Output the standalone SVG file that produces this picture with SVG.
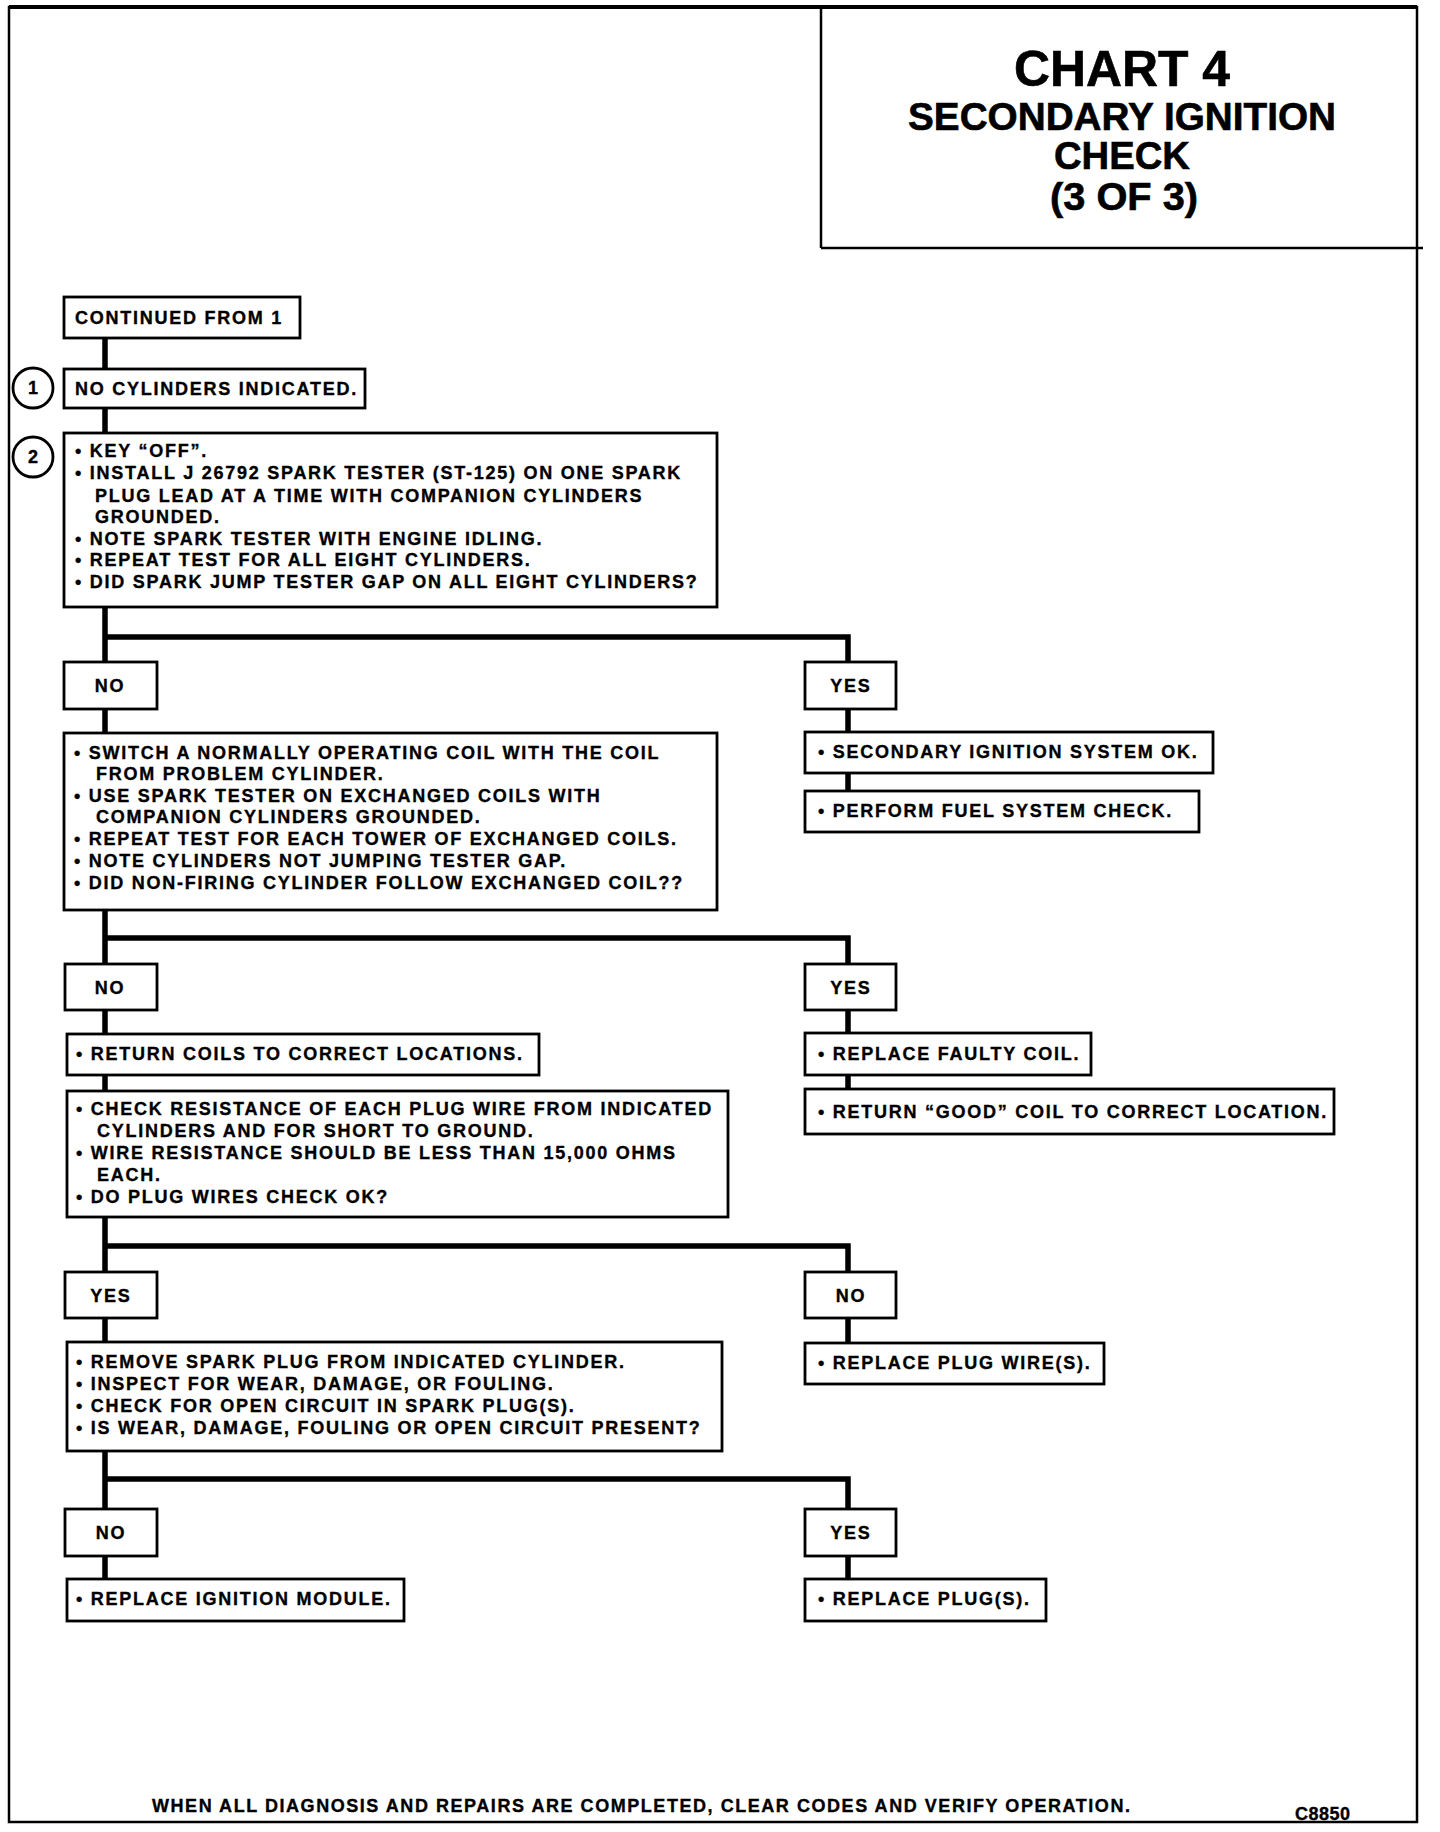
<svg xmlns="http://www.w3.org/2000/svg" width="1440" height="1832" viewBox="0 0 1440 1832">
<style>
.bg{fill:#ffffff}
.frame{fill:none;stroke:#000;stroke-width:2.5}
.box{fill:#fff;stroke:#000;stroke-width:2.8}
.con{fill:none;stroke:#000;stroke-width:5.5;stroke-linejoin:miter;stroke-linecap:butt}
.t{font-family:"Liberation Sans",Arial,sans-serif;font-weight:bold;font-size:18px;letter-spacing:1.75px;fill:#000;stroke:#000;stroke-width:0.35}
.c{text-anchor:middle}
.n0{letter-spacing:0px}
.ft{letter-spacing:1.55px}
.id{letter-spacing:0.5px}
.ttl{font-family:"Liberation Sans",Arial,sans-serif;font-weight:bold;fill:#000;stroke:#000;stroke-width:0.6;text-anchor:middle}
</style>
<rect class="bg" x="0" y="0" width="1440" height="1832"/>
<g id="frame">
<rect class="frame" x="9" y="7" width="1408" height="1815"/>
<line x1="9" y1="7" x2="1417" y2="7" stroke="#000" stroke-width="4"/>
<line x1="821" y1="7" x2="821" y2="248" stroke="#000" stroke-width="2.5"/>
<line x1="821" y1="248" x2="1423" y2="248" stroke="#000" stroke-width="2.5"/>
</g>
<g id="title">
<text class="ttl" x="1122" y="86" font-size="50" textLength="216" lengthAdjust="spacingAndGlyphs">CHART 4</text>
<text class="ttl" x="1122" y="130" font-size="38" textLength="428" lengthAdjust="spacingAndGlyphs">SECONDARY IGNITION</text>
<text class="ttl" x="1122" y="169" font-size="38" textLength="136" lengthAdjust="spacingAndGlyphs">CHECK</text>
<text class="ttl" x="1124" y="210" font-size="38" textLength="148" lengthAdjust="spacingAndGlyphs">(3 OF 3)</text>
</g>
<g id="connectors">
<path class="con" d="M105 338 V369 M105 408 V433 M105 607 V662 M105 709 V733 M105 910 V964 M105 1010 V1034 M105 1075 V1091 M105 1217 V1272 M105 1318 V1342 M105 1451 V1509 M105 1556 V1579"/>
<path class="con" d="M105 637 H848 V662 M105 938 H848 V964 M105 1246 H848 V1272 M105 1479 H848 V1509"/>
<path class="con" d="M848 709 V732 M848 773 V791 M848 1010 V1033 M848 1075 V1089 M848 1318 V1343 M848 1556 V1579"/>
</g>
<g id="n-continued">
<rect class="box" x="64" y="297" width="236" height="41"/>
<text class="t" x="75" y="324">CONTINUED FROM 1</text>
</g>
<g id="step1-marker">
<circle cx="33" cy="388" r="20" fill="#fff" stroke="#000" stroke-width="2.8"/>
<text class="t c n0" x="33" y="394">1</text>
</g>
<g id="n-no-cylinders">
<rect class="box" x="64" y="369" width="301" height="39"/>
<text class="t" x="75" y="395">NO CYLINDERS INDICATED.</text>
</g>
<g id="step2-marker">
<circle cx="33" cy="457" r="20" fill="#fff" stroke="#000" stroke-width="2.8"/>
<text class="t c n0" x="33" y="463">2</text>
</g>
<g id="n-spark-test">
<rect class="box" x="64" y="433" width="653" height="174"/>
<text class="t" x="75" y="457">• KEY “OFF”.</text>
<text class="t" x="75" y="479">• INSTALL J 26792 SPARK TESTER (ST-125) ON ONE SPARK</text>
<text class="t" x="95" y="502">PLUG LEAD AT A TIME WITH COMPANION CYLINDERS</text>
<text class="t" x="95" y="523">GROUNDED.</text>
<text class="t" x="75" y="545">• NOTE SPARK TESTER WITH ENGINE IDLING.</text>
<text class="t" x="75" y="566">• REPEAT TEST FOR ALL EIGHT CYLINDERS.</text>
<text class="t" x="75" y="588">• DID SPARK JUMP TESTER GAP ON ALL EIGHT CYLINDERS?</text>
</g>
<g id="n-no1">
<rect class="box" x="64" y="662" width="93" height="47"/>
<text class="t c" x="110" y="692">NO</text>
</g>
<g id="n-yes1">
<rect class="box" x="805" y="662" width="91" height="47"/>
<text class="t c" x="851" y="692">YES</text>
</g>
<g id="n-secondary-ok">
<rect class="box" x="805" y="732" width="408" height="41"/>
<text class="t" x="818" y="758">• SECONDARY IGNITION SYSTEM OK.</text>
</g>
<g id="n-fuel-check">
<rect class="box" x="805" y="791" width="394" height="41"/>
<text class="t" x="818" y="817">• PERFORM FUEL SYSTEM CHECK.</text>
</g>
<g id="n-switch-coil">
<rect class="box" x="64" y="733" width="653" height="177"/>
<text class="t" x="74" y="759">• SWITCH A NORMALLY OPERATING COIL WITH THE COIL</text>
<text class="t" x="96" y="780">FROM PROBLEM CYLINDER.</text>
<text class="t" x="74" y="802">• USE SPARK TESTER ON EXCHANGED COILS WITH</text>
<text class="t" x="96" y="823">COMPANION CYLINDERS GROUNDED.</text>
<text class="t" x="74" y="845">• REPEAT TEST FOR EACH TOWER OF EXCHANGED COILS.</text>
<text class="t" x="74" y="867">• NOTE CYLINDERS NOT JUMPING TESTER GAP.</text>
<text class="t" x="74" y="889">• DID NON-FIRING CYLINDER FOLLOW EXCHANGED COIL??</text>
</g>
<g id="n-no2">
<rect class="box" x="65" y="964" width="92" height="46"/>
<text class="t c" x="110" y="994">NO</text>
</g>
<g id="n-yes2">
<rect class="box" x="805" y="964" width="91" height="46"/>
<text class="t c" x="851" y="994">YES</text>
</g>
<g id="n-return-coils">
<rect class="box" x="67" y="1034" width="472" height="41"/>
<text class="t" x="76" y="1060">• RETURN COILS TO CORRECT LOCATIONS.</text>
</g>
<g id="n-check-wires">
<rect class="box" x="67" y="1091" width="661" height="126"/>
<text class="t" x="76" y="1115">• CHECK RESISTANCE OF EACH PLUG WIRE FROM INDICATED</text>
<text class="t" x="97" y="1137">CYLINDERS AND FOR SHORT TO GROUND.</text>
<text class="t" x="76" y="1159">• WIRE RESISTANCE SHOULD BE LESS THAN 15,000 OHMS</text>
<text class="t" x="97" y="1181">EACH.</text>
<text class="t" x="76" y="1203">• DO PLUG WIRES CHECK OK?</text>
</g>
<g id="n-replace-coil">
<rect class="box" x="805" y="1033" width="286" height="42"/>
<text class="t" x="818" y="1060">• REPLACE FAULTY COIL.</text>
</g>
<g id="n-return-good">
<rect class="box" x="805" y="1089" width="529" height="45"/>
<text class="t" x="818" y="1118">• RETURN “GOOD” COIL TO CORRECT LOCATION.</text>
</g>
<g id="n-yes3">
<rect class="box" x="65" y="1272" width="92" height="46"/>
<text class="t c" x="111" y="1302">YES</text>
</g>
<g id="n-no3">
<rect class="box" x="805" y="1272" width="91" height="46"/>
<text class="t c" x="851" y="1302">NO</text>
</g>
<g id="n-remove-plug">
<rect class="box" x="67" y="1342" width="655" height="109"/>
<text class="t" x="76" y="1368">• REMOVE SPARK PLUG FROM INDICATED CYLINDER.</text>
<text class="t" x="76" y="1390">• INSPECT FOR WEAR, DAMAGE, OR FOULING.</text>
<text class="t" x="76" y="1412">• CHECK FOR OPEN CIRCUIT IN SPARK PLUG(S).</text>
<text class="t" x="76" y="1434">• IS WEAR, DAMAGE, FOULING OR OPEN CIRCUIT PRESENT?</text>
</g>
<g id="n-replace-wires">
<rect class="box" x="805" y="1343" width="299" height="41"/>
<text class="t" x="818" y="1369">• REPLACE PLUG WIRE(S).</text>
</g>
<g id="n-no4">
<rect class="box" x="65" y="1509" width="92" height="47"/>
<text class="t c" x="111" y="1539">NO</text>
</g>
<g id="n-yes4">
<rect class="box" x="805" y="1509" width="91" height="47"/>
<text class="t c" x="851" y="1539">YES</text>
</g>
<g id="n-replace-module">
<rect class="box" x="67" y="1579" width="337" height="42"/>
<text class="t" x="76" y="1605">• REPLACE IGNITION MODULE.</text>
</g>
<g id="n-replace-plugs">
<rect class="box" x="805" y="1579" width="241" height="42"/>
<text class="t" x="818" y="1605">• REPLACE PLUG(S).</text>
</g>
<g id="footer">
<text class="t ft" x="152" y="1812">WHEN ALL DIAGNOSIS AND REPAIRS ARE COMPLETED, CLEAR CODES AND VERIFY OPERATION.</text>
<text class="t id" x="1295" y="1820">C8850</text>
</g>
</svg>
